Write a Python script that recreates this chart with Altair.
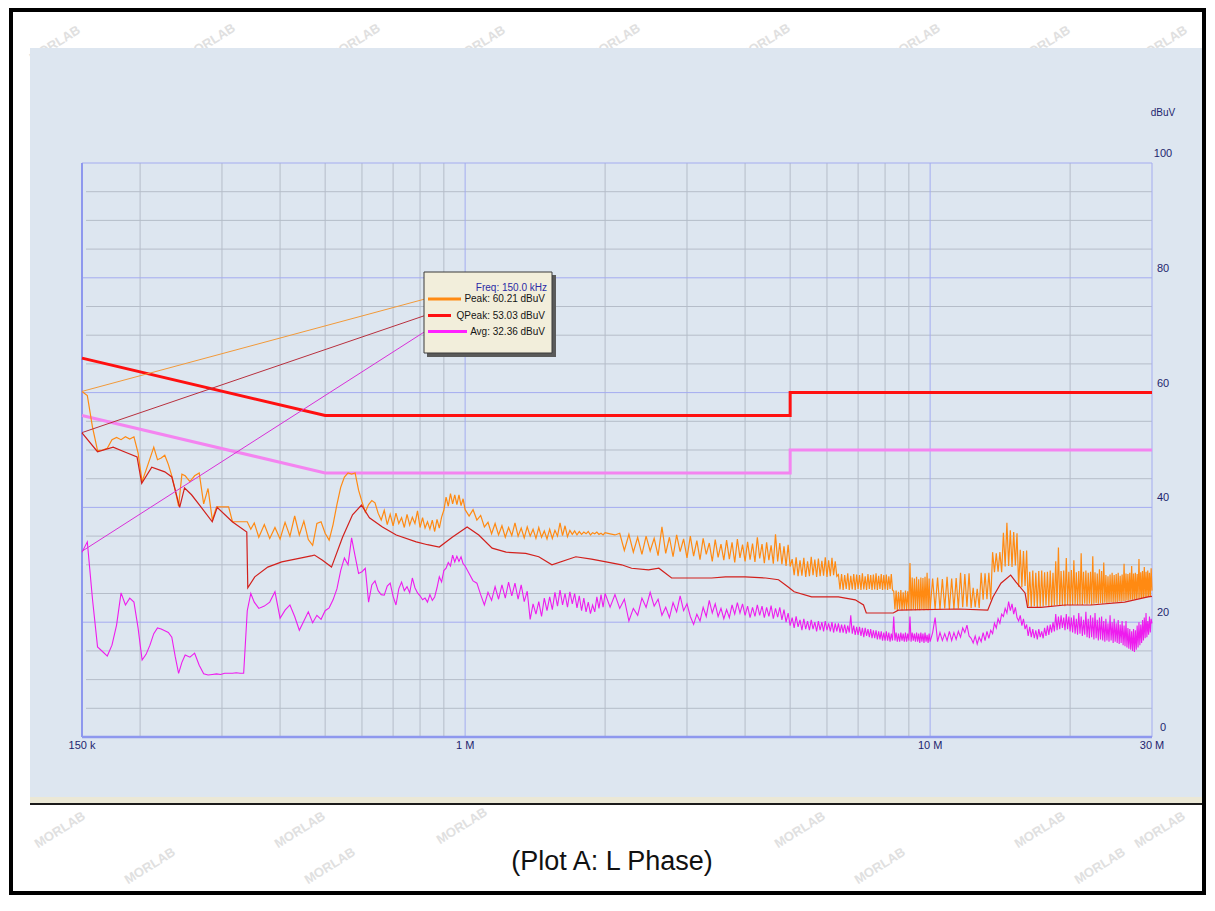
import altair as alt
import pandas as pd

# ---------------- measurement sweep (MHz) ----------------
F1 = [0.150, 0.154, 0.158, 0.162, 0.166, 0.170, 0.174, 0.178, 0.182, 0.186, 0.190, 0.194, 0.198,
      0.202, 0.206, 0.210, 0.214, 0.218, 0.222, 0.226, 0.230, 0.234, 0.238, 0.242, 0.246, 0.250]
F2A = [0.256, 0.262, 0.268, 0.274, 0.280, 0.286, 0.292, 0.298, 0.304, 0.310, 0.316, 0.322, 0.328,
       0.334, 0.340, 0.346, 0.352]
F2B = [0.36, 0.37, 0.38, 0.39, 0.40, 0.41, 0.42, 0.43, 0.44, 0.45, 0.46, 0.47, 0.48, 0.49, 0.50]
F3 = [0.51, 0.52, 0.53, 0.54, 0.55, 0.56, 0.57, 0.58, 0.59, 0.60, 0.61, 0.62, 0.63, 0.64, 0.65,
      0.66, 0.67, 0.68, 0.69, 0.70, 0.71, 0.72, 0.73, 0.74, 0.75, 0.76, 0.77, 0.78, 0.79, 0.80,
      0.81, 0.82, 0.83, 0.84, 0.85, 0.86, 0.87, 0.88, 0.89, 0.90, 0.91, 0.92, 0.93, 0.94, 0.95,
      0.96, 0.97, 0.98, 0.99, 1.00]
F4 = [1.02, 1.04, 1.06, 1.08, 1.10, 1.12, 1.14, 1.16, 1.18, 1.20, 1.22, 1.24, 1.26, 1.28, 1.30,
      1.32, 1.34, 1.36, 1.38, 1.40, 1.42, 1.44, 1.46, 1.48, 1.50, 1.52, 1.54, 1.56, 1.58, 1.60,
      1.62, 1.64, 1.66, 1.68, 1.70, 1.72, 1.74, 1.76, 1.78, 1.80, 1.82, 1.84, 1.86, 1.88, 1.90,
      1.92, 1.94, 1.96, 1.98, 2.00]
F5 = [2.05, 2.10, 2.15, 2.20, 2.25, 2.30, 2.35, 2.40, 2.45, 2.50, 2.55, 2.60, 2.65, 2.70, 2.75,
      2.80, 2.85, 2.90, 2.95, 3.00, 3.05, 3.10, 3.15, 3.20, 3.25, 3.30, 3.35, 3.40, 3.45, 3.50,
      3.55, 3.60, 3.65, 3.70, 3.75, 3.80, 3.85, 3.90, 3.95, 4.00, 4.05, 4.10, 4.15, 4.20, 4.25,
      4.30, 4.35, 4.40, 4.45, 4.50, 4.55, 4.60, 4.65, 4.70, 4.75, 4.80, 4.85, 4.90, 4.95, 5.00]
F6 = [5.05, 5.10, 5.15, 5.20, 5.25, 5.30, 5.35, 5.40, 5.45, 5.50, 5.55, 5.60, 5.65, 5.70, 5.75,
      5.80, 5.85, 5.90, 5.95, 6.00, 6.05, 6.10, 6.15, 6.20, 6.25, 6.30,
      6.35, 6.40, 6.45, 6.50, 6.55, 6.60, 6.65, 6.70, 6.75, 6.80, 6.85, 6.90, 6.95, 7.00, 7.05,
      7.10, 7.15, 7.20, 7.25, 7.30, 7.35, 7.40, 7.45, 7.50, 7.55, 7.60, 7.65, 7.70, 7.75, 7.80,
      7.85, 7.90, 7.95, 8.00, 8.05, 8.10, 8.15, 8.20, 8.25, 8.30,
      8.35, 8.40, 8.45, 8.50, 8.55, 8.60, 8.65, 8.70, 8.75, 8.80, 8.85, 8.90, 8.95,
      9.00, 9.05, 9.10, 9.15, 9.20, 9.25, 9.30, 9.35, 9.40, 9.45, 9.50, 9.55, 9.60, 9.65, 9.70,
      9.75, 9.80, 9.85, 9.90, 9.95, 10.00]
F7 = [10.125, 10.25, 10.375, 10.5, 10.625, 10.75, 10.875, 11.0, 11.125, 11.25, 11.375, 11.5,
      11.625, 11.75, 11.875, 12.0, 12.125,
      12.25, 12.375, 12.5, 12.625, 12.75,
      12.875, 13.0, 13.125, 13.25, 13.375, 13.5,
      13.625, 13.75, 13.875, 14.0, 14.125, 14.25,
      14.375, 14.5, 14.625, 14.75, 14.875, 15.0, 15.125, 15.25, 15.375,
      15.5, 15.625, 15.75, 15.875, 16.0, 16.125,
      16.25, 16.375, 16.5, 16.625, 16.75, 16.875, 17.0, 17.125, 17.25, 17.375,
      17.5, 17.625, 17.75, 17.875, 18.0, 18.125, 18.25, 18.375, 18.5, 18.625,
      18.75, 18.875, 19.0, 19.125, 19.25, 19.375, 19.5, 19.625, 19.75, 19.875,
      20.0, 20.125, 20.25, 20.375, 20.5, 20.625, 20.75, 20.875, 21.0, 21.125,
      21.25, 21.375, 21.5, 21.625, 21.75, 21.875, 22.0, 22.125, 22.25, 22.375,
      22.5, 22.625, 22.75, 22.875, 23.0, 23.125, 23.25, 23.375, 23.5, 23.625,
      23.75, 23.875, 24.0, 24.125, 24.25, 24.375, 24.5, 24.625, 24.75, 24.875,
      25.0, 25.125, 25.25, 25.375, 25.5, 25.625, 25.75, 25.875, 26.0, 26.125,
      26.25, 26.375, 26.5, 26.625, 26.75, 26.875, 27.0, 27.125, 27.25, 27.375,
      27.5, 27.625, 27.75, 27.875, 28.0, 28.125, 28.25, 28.375, 28.5, 28.625,
      28.75, 28.875, 29.0, 29.125, 29.25, 29.375, 29.5, 29.625, 29.75, 29.875, 30.0]

# ---------------- Peak trace (dBuV) ----------------
P1 = [60.2, 59.5, 54.0, 49.9, 50.0, 50.3, 51.8, 52.2, 51.8, 52.3, 51.9, 52.3, 49.5, 44.5, 46.5,
      48.5, 50.5, 48.3, 48.6, 49.1, 47.5, 45.5, 43.0, 40.2, 45.8, 45.5]
P2A = [44.5, 45.5, 46.0, 40.6, 43.3, 37.8, 40.1, 40.1, 40.1, 40.1, 37.5, 37.5, 37.5, 37.5, 37.5,
       36.2, 37.3]
P2B = [34.8, 37.0, 34.6, 36.5, 34.5, 37.4, 35.0, 38.5, 35.2, 37.6, 34.4, 33.4, 37.2, 37.5, 35.5]
P3 = [34.3, 37.0, 40.5, 43.5, 45.3, 46.0, 45.8, 46.0, 43.0, 41.0, 39.2, 40.5, 41.2, 40.8, 39.0,
      37.8, 39.5, 37.0, 38.8, 36.8, 39.0, 37.2, 38.2, 36.5, 38.8, 36.9, 38.3, 37.2, 39.4, 36.5,
      38.2, 36.4, 37.5, 36.2, 37.8, 35.8, 37.9, 36.4, 38.3, 39.5, 41.8, 40.2, 42.4, 40.6, 42.2,
      40.5, 42.2, 40.3, 41.5, 39.6]
P4 = [38.5, 39.6, 37.8, 38.6, 36.6, 37.4, 35.4, 37.2, 35.2, 36.8, 34.8, 36.5, 35.1, 37.3, 35.0,
      36.4, 34.7, 36.6, 35.0, 36.2, 34.6, 36.5, 34.8, 35.9, 34.5, 36.2, 34.6, 36.0, 35.0, 37.3,
      35.1, 36.8, 34.9, 36.0, 35.3, 35.9, 35.2, 35.8, 35.3, 35.7, 35.4, 35.8, 35.2, 35.6, 35.4,
      35.7, 35.3, 35.5, 35.2, 35.6]
P5 = [35.4, 35.2, 35.5, 32.5, 35.3, 32.2, 34.8, 31.8, 35.0, 32.4, 34.6, 31.6, 36.6, 32.0, 34.8,
      31.4, 35.2, 32.3, 34.5, 31.2, 35.0, 31.5, 34.2, 30.9, 34.6, 31.8, 33.8, 30.6, 34.4, 31.3,
      33.6, 30.8, 34.3, 31.0, 33.9, 30.4, 34.5, 31.2, 33.5, 30.6, 34.0, 30.9, 33.7, 30.5, 34.8,
      31.1, 33.6, 30.3, 33.9, 30.8, 33.4, 30.2, 35.3, 30.6, 33.8, 30.1, 33.2, 29.8, 33.5, 29.7]
P6 = [31.0, 28.2, 31.3, 28.0, 30.8, 28.1, 31.2, 27.9, 30.6, 28.0, 31.4, 28.2, 30.9, 27.9, 31.1,
      28.0, 30.7, 28.1, 31.3, 27.9, 30.8, 28.0, 31.2, 28.2, 30.6, 28.0,
      28.3, 25.7, 28.4, 25.6, 28.2, 25.8, 28.5, 25.6, 28.1, 25.7, 28.4, 25.6, 28.3, 25.8, 28.2,
      25.6, 28.5, 25.7, 28.0, 25.6, 28.4, 25.8, 28.2, 25.6, 28.3, 25.7, 28.5, 25.6, 28.1, 25.8,
      28.4, 25.6, 28.2, 25.7, 28.3, 25.6, 28.0, 25.8, 28.4, 25.6,
      25.4, 22.2, 25.5, 22.1, 25.3, 22.3, 25.6, 22.1, 25.2, 22.2, 25.5, 22.1, 25.4,
      22.2, 30.3, 22.1, 27.8, 22.3, 27.6, 22.1, 27.9, 22.2, 27.5, 22.1, 27.8, 22.3, 27.7, 22.1,
      27.9, 22.2, 28.6, 22.1, 27.6, 22.2]
P7 = [27.6, 22.3, 27.8, 22.2, 27.5, 22.4, 27.9, 22.2, 27.6, 22.3, 27.7, 22.4,
      28.6, 22.6, 28.4, 22.7, 28.5,
      22.5, 26.0, 22.6, 25.8, 22.5,
      28.6, 23.9, 28.5, 24.0, 28.6, 23.9,
      32.2, 28.7, 32.0, 28.8, 32.2, 28.7,
      35.6, 29.7, 37.3, 29.8, 36.0, 29.6, 35.7, 29.9, 35.5,
      26.2, 32.6, 26.1, 32.4, 26.3, 32.5,
      22.8, 28.8, 22.7, 29.0, 22.8, 28.6, 22.6, 28.9, 22.7, 29.0,
      22.8, 28.7, 22.9, 28.8, 22.8, 29.0, 22.7, 28.6, 22.9, 30.6,
      23.0, 33.0, 22.9, 28.9, 23.0, 29.0, 22.8, 31.2, 23.0, 28.8,
      22.9, 29.1, 23.0, 30.8, 23.1, 28.7, 23.0, 28.9, 23.1, 32.0,
      23.0, 28.8, 23.2, 29.0, 23.1, 28.6, 23.2, 28.8, 23.0, 31.5,
      23.2, 28.7, 23.3, 28.5, 23.2, 29.2, 23.3, 28.9, 23.2, 30.4,
      23.4, 28.2, 23.3, 28.0, 23.4, 28.3, 23.5, 28.6, 23.4, 28.2,
      23.5, 28.4, 23.5, 28.6, 23.6, 28.1, 23.6, 28.3, 23.7, 30.2,
      23.7, 28.5, 23.8, 28.4, 23.8, 28.6, 23.9, 29.8, 23.9, 28.5,
      24.0, 28.6, 24.0, 28.4, 24.1, 31.0, 24.1, 28.7, 24.2, 28.9,
      24.2, 29.6, 24.3, 28.8, 24.3, 29.0, 24.4, 28.6, 24.4, 29.4, 25.5]

# ---------------- Average trace (dBuV) ----------------
A1 = [32.2, 34.0, 24.0, 15.7, 14.9, 14.1, 16.0, 19.5, 25.1, 23.0, 24.2, 23.5, 19.0, 13.4, 14.4,
      16.0, 18.0, 19.0, 18.8, 18.5, 18.2, 17.4, 14.0, 11.1, 13.0, 14.3]
A2A = [13.9, 14.6, 12.5, 11.0, 10.8, 10.9, 11.0, 10.9, 11.1, 11.1, 11.1, 11.2, 11.1, 11.1, 22.0,
       25.0, 23.5]
A2B = [22.4, 22.8, 23.5, 25.3, 20.7, 22.1, 23.0, 21.0, 18.6, 20.2, 21.8, 19.9, 21.2, 20.5, 22.0]
A3 = [22.5, 23.9, 25.8, 29.0, 31.2, 30.0, 34.7, 31.5, 28.5, 28.8, 29.4, 23.5, 26.5, 27.2, 25.5,
      24.8, 24.7, 26.3, 26.8, 24.5, 23.0, 25.8, 27.0, 25.5, 26.2, 25.1, 27.7, 26.0, 25.1, 24.6,
      23.9, 24.2, 23.5, 24.8, 23.8, 24.4, 26.0, 27.9, 27.0, 29.0, 29.4, 30.4, 29.8, 31.7, 30.5,
      31.5, 30.6, 31.4, 30.2, 29.8]
A4 = [28.5, 27.2, 26.8, 24.8, 23.0, 25.2, 23.8, 26.2, 24.0, 26.5, 24.2, 27.0, 24.6, 26.8, 24.0,
      26.5, 23.6, 25.4, 20.5, 23.2, 21.4, 23.6, 21.0, 24.2, 22.0, 24.4, 22.2, 25.2, 22.8, 25.6,
      23.0, 25.0, 22.6, 25.3, 23.2, 25.0, 22.5, 24.6, 22.0, 24.2, 21.8, 23.5, 21.5, 23.0, 21.8,
      24.4, 22.4, 24.8, 22.6, 25.0]
A5 = [22.6, 24.8, 22.4, 24.0, 20.2, 22.4, 21.2, 24.2, 22.6, 25.2, 22.8, 24.0, 21.2, 22.6, 20.8,
      23.4, 21.8, 24.6, 22.0, 23.2, 21.0, 19.6, 21.4, 20.2, 22.6, 21.0, 23.8, 21.6, 23.2, 21.0,
      22.4, 20.6, 22.2, 20.8, 23.0, 21.4, 23.4, 21.6, 23.2, 21.2, 22.8, 20.8, 22.6, 21.0, 23.0,
      21.2, 22.8, 20.8, 22.6, 21.0, 22.9, 20.6, 22.4, 20.9, 22.6, 20.4, 22.2, 20.0, 21.6, 19.4]
A6 = [20.8, 19.0, 21.0, 19.2, 20.4, 18.6, 20.6, 18.8, 20.2, 18.6, 20.4, 18.8, 20.0, 18.4, 20.2,
      18.6, 20.0, 18.4, 20.2, 18.6, 19.8, 18.4, 20.0, 18.2, 19.8, 18.4,
      19.8, 18.2, 19.6, 18.2, 19.6, 18.0, 19.4, 18.2, 21.2, 18.0, 19.4, 17.8, 19.2, 17.8, 19.2,
      17.6, 19.0, 17.4, 19.0, 17.6, 18.8, 17.4, 18.8, 17.2, 18.6, 17.2, 18.6, 17.0, 18.4, 17.0,
      18.4, 16.8, 18.2, 16.8, 18.4, 16.8, 18.2, 16.6, 18.0, 16.8,
      21.0, 16.8, 18.2, 16.6, 18.0, 16.6, 18.2, 16.8, 18.0, 16.6, 18.2, 16.6, 18.0,
      16.8, 21.0, 16.6, 18.2, 16.8, 18.0, 16.6, 18.2, 16.6, 18.0, 16.4, 18.2, 16.6, 18.0, 16.4,
      18.2, 16.6, 17.8, 16.4, 18.0, 16.6]
A7 = [18.2, 20.8, 16.6, 18.2, 16.8, 18.0, 16.8, 18.4, 16.8, 18.2, 17.0, 18.4,
      17.4, 19.0, 18.2, 19.5, 17.6,
      17.2, 16.4, 17.6, 16.2, 17.4,
      16.6, 18.2, 16.8, 18.4, 17.2, 18.6,
      18.0, 19.8, 19.0, 20.6, 19.8, 21.4,
      21.0, 22.4, 21.6, 23.6, 22.0, 23.2, 21.4, 22.6, 20.8,
      20.2, 21.2, 19.4, 20.6, 18.8, 19.6,
      17.6, 19.2, 17.4, 18.8, 17.2, 18.6, 17.0, 18.8, 17.4, 18.4,
      17.2, 19.0, 17.6, 19.4, 17.8, 19.6, 18.2, 20.0, 18.4, 21.4,
      18.6, 21.0, 18.8, 21.2, 19.0, 20.8, 18.6, 21.4, 18.8, 21.0,
      18.4, 20.8, 18.2, 21.2, 18.0, 20.6, 17.8, 21.6, 18.0, 21.0,
      17.6, 20.4, 17.8, 21.8, 17.4, 20.6, 17.2, 21.2, 17.4, 20.8,
      17.0, 21.6, 17.2, 20.4, 16.8, 20.8, 17.0, 21.0, 16.8, 20.2,
      16.6, 20.6, 16.8, 19.8, 16.6, 21.2, 16.8, 20.0, 16.4, 20.6,
      16.6, 19.8, 16.4, 20.4, 16.2, 19.6, 16.4, 20.2, 16.0, 19.4,
      15.8, 20.2, 15.6, 19.0, 15.4, 18.8, 15.2, 18.4, 15.0, 18.8,
      14.8, 18.6, 15.2, 19.4, 15.6, 20.0, 16.0, 19.6, 16.4, 20.4,
      16.8, 20.8, 17.2, 21.6, 17.4, 20.2, 17.8, 21.0, 18.2, 20.6, 19.8]

FREQ_MHZ = F1 + F2A + F2B + F3 + F4 + F5 + F6 + F7
PEAK_DBUV = P1 + P2A + P2B + P3 + P4 + P5 + P6 + P7
AVG_DBUV = A1 + A2A + A2B + A3 + A4 + A5 + A6 + A7

# ---------------- Quasi-peak trace ----------------
QP_FREQ_MHZ = [0.150, 0.162, 0.175, 0.186, 0.197, 0.2016, 0.2119, 0.226, 0.234, 0.2433, 0.2492,
               0.258, 0.2708, 0.2859, 0.293, 0.3157, 0.3392, 0.3409, 0.3529, 0.3763, 0.4033,
               0.4447, 0.4693, 0.4743, 0.4935, 0.516, 0.545, 0.5726, 0.5986, 0.6226, 0.664,
               0.711, 0.785, 0.83, 0.88, 0.938, 1.01, 1.07, 1.143, 1.225, 1.35, 1.44, 1.537,
               1.73, 1.87, 2.01, 2.17, 2.28, 2.48, 2.61, 2.78, 3.07, 3.39, 3.63, 4.0, 4.43,
               4.72, 4.96, 5.1, 5.56, 6.35, 6.9, 7.19, 7.29, 8.33, 8.54, 11.5, 13.3, 13.65,
               14.2, 14.9, 15.3, 16.0, 16.2, 17.3, 19.5, 22.2, 26.2, 29.4, 30.0]
QP_DBUV = [53.0, 49.7, 50.5, 49.6, 48.8, 44.2, 47.0, 46.2, 45.3, 40.0, 43.4,
           42.2, 40.0, 37.5, 40.0, 37.5, 35.7, 26.0, 27.9, 29.6, 30.5,
           31.2, 31.6, 31.7, 30.8, 29.6, 34.8, 38.7, 40.4, 38.2, 36.6,
           35.2, 34.0, 33.5, 33.1, 34.8, 36.6, 35.2, 32.9, 32.2, 32.0, 31.4, 30.0,
           31.4, 31.0, 30.5, 30.0, 29.4, 29.1, 29.4, 27.7, 27.7, 27.7, 27.9, 27.9, 27.7,
           27.4, 26.1, 25.3, 24.4, 24.4, 23.9, 23.0, 21.6, 21.6, 22.1, 22.3, 22.1, 24.4,
           26.8, 28.2, 27.0, 25.1, 22.6, 22.6, 23.0, 23.0, 23.5, 24.4, 24.5]

# ---------------- limits ----------------
LIMIT_FREQ_MHZ = [0.15, 0.5, 5.0, 5.0, 30.0]
QP_LIMIT_DBUV = [66, 56, 56, 60, 60]
AVG_LIMIT_DBUV = [56, 46, 46, 50, 50]

# ---------------- marker readout ----------------
MARKER_FREQ_MHZ = 0.15
MARKER_FREQ_TEXT = "Freq: 150.0 kHz"
MARKER_NAMES = ["Peak", "QPeak", "Avg"]
MARKER_VALUES = [60.21, 53.03, 32.36]

# ---------------- axes / grid / text ----------------
X_TICK_VALUES = [0.15, 1, 10, 30]
X_TICK_LABELS = ["150 k", "1 M", "10 M", "30 M"]
Y_TICK_VALUES = [0, 20, 40, 60, 80, 100]
V_MINOR = [0.2, 0.3, 0.4, 0.5, 0.6, 0.7, 0.8, 0.9, 2, 3, 4, 5, 6, 7, 8, 9, 20]
V_MAJOR = [1, 10]
H_MINOR = [5, 10, 15, 25, 30, 35, 45, 50, 55, 65, 70, 75, 85, 90, 95]
H_MAJOR = [20, 40, 60, 80]
TITLE = "(Plot A: L Phase)"
UNIT = "dBuV"
WATERMARK = "MORLAB"

# ---------------- styling ----------------
W, H = 1070, 574
OX, OY = 82, 163          # page position of the plot origin
PANEL = "#dde6f0"
GRAY = "#b5bdc9"
BLUE = "#a4acf0"
EDGE = "#8e98ee"
NAVY = "#1d1f6e"
C_PEAK = "#ff8a12"
C_QP = "#d2201c"
C_AVG = "#ee1cee"
C_QPLIM = "#ff1010"
C_AVGLIM = "#f484f0"
SWATCH = ["#ff8a12", "#ff1010", "#ff20ff"]
LEAD = ["#f29a3a", "#b8303e", "#d830d8"]
FONT = "Liberation Sans, Arial, Helvetica, sans-serif"

# watermark centres (page pixels)
WM_PAGE_X = [55, 210, 355, 480, 615, 765, 915, 1045, 1162,
             60, 300, 462, 800, 1040, 1160,
             150, 330, 880, 1100]
WM_PAGE_Y = [44, 42, 42, 44, 42, 42, 42, 44, 44,
             830, 830, 826, 830, 830, 830,
             866, 866, 866, 866]

xs = alt.Scale(type="log", domain=[0.15, 30], nice=False)
ys = alt.Scale(domain=[0, 100], nice=False, zero=False)


def X(f):
    return alt.X(f"{f}:Q", scale=xs, axis=None)


def Y(f):
    return alt.Y(f"{f}:Q", scale=ys, axis=None)


one = pd.DataFrame({"k": [0]})
layers = []

# watermarks (under the panel)
for wx, wy in zip(WM_PAGE_X, WM_PAGE_Y):
    layers.append(alt.Chart(pd.DataFrame({"t": [WATERMARK]})).mark_text(
        font=FONT, fontSize=13, fontWeight="bold", color="#e0e0e0", angle=328,
        baseline="middle").encode(x=alt.value(wx - OX), y=alt.value(wy - OY), text="t:N"))

# panel background and bottom status bar
layers.append(alt.Chart(one).mark_rect(color=PANEL).encode(
    x=alt.value(-52), x2=alt.value(1120), y=alt.value(-115), y2=alt.value(634)))
layers.append(alt.Chart(one).mark_rect(color="#ebe8d6").encode(
    x=alt.value(-52), x2=alt.value(1120), y=alt.value(634), y2=alt.value(640)))
layers.append(alt.Chart(one).mark_rule(color="#1a1a1a", strokeWidth=2).encode(
    x=alt.value(-52), x2=alt.value(1120), y=alt.value(641)))

# grid
layers.append(alt.Chart(pd.DataFrame({"f": V_MINOR})).mark_rule(color=GRAY, strokeWidth=1).encode(
    x=X("f"), y=alt.value(0), y2=alt.value(H)))
layers.append(alt.Chart(pd.DataFrame({"db": H_MINOR})).mark_rule(color=GRAY, strokeWidth=1).encode(
    y=Y("db"), x=alt.value(4), x2=alt.value(W)))
layers.append(alt.Chart(pd.DataFrame({"f": V_MAJOR})).mark_rule(color=BLUE, strokeWidth=1).encode(
    x=X("f"), y=alt.value(0), y2=alt.value(H)))
layers.append(alt.Chart(pd.DataFrame({"db": H_MAJOR})).mark_rule(color=BLUE, strokeWidth=1).encode(
    y=Y("db"), x=alt.value(0), x2=alt.value(W)))
# plot frame
layers.append(alt.Chart(one).mark_rule(color=BLUE, strokeWidth=1).encode(
    x=alt.value(0), x2=alt.value(W), y=alt.value(0)))
layers.append(alt.Chart(one).mark_rule(color=BLUE, strokeWidth=1).encode(
    x=alt.value(W), y=alt.value(0), y2=alt.value(H)))
layers.append(alt.Chart(one).mark_rule(color=EDGE, strokeWidth=2).encode(
    x=alt.value(0), y=alt.value(0), y2=alt.value(H)))
layers.append(alt.Chart(one).mark_rule(color=EDGE, strokeWidth=2.5).encode(
    x=alt.value(0), x2=alt.value(W), y=alt.value(H)))

# limit lines
lim = pd.DataFrame({"f": LIMIT_FREQ_MHZ, "qp": QP_LIMIT_DBUV, "av": AVG_LIMIT_DBUV,
                    "i": list(range(len(LIMIT_FREQ_MHZ)))})
layers.append(alt.Chart(lim).mark_line(color=C_QPLIM, strokeWidth=3).encode(
    x=X("f"), y=Y("qp"), order="i:Q"))
layers.append(alt.Chart(lim).mark_line(color=C_AVGLIM, strokeWidth=3).encode(
    x=X("f"), y=Y("av"), order="i:Q"))

# traces
main = pd.DataFrame({"f": FREQ_MHZ, "pk": PEAK_DBUV, "av": AVG_DBUV})
main["i"] = range(len(main))
qp = pd.DataFrame({"f": QP_FREQ_MHZ, "qp": QP_DBUV})
qp["i"] = range(len(qp))
layers.append(alt.Chart(main).mark_line(color=C_PEAK, strokeWidth=1.2).encode(
    x=X("f"), y=Y("pk"), order="i:Q"))
layers.append(alt.Chart(qp).mark_line(color=C_QP, strokeWidth=1.2).encode(
    x=X("f"), y=Y("qp"), order="i:Q"))
layers.append(alt.Chart(main).mark_line(color=C_AVG, strokeWidth=1.1).encode(
    x=X("f"), y=Y("av"), order="i:Q"))

# leader lines from the marker to the readout box
row_y = [136, 152.5, 168.5]
for val, col, ry in zip(MARKER_VALUES, LEAD, row_y):
    layers.append(alt.Chart(pd.DataFrame({"f": [MARKER_FREQ_MHZ], "db": [val]})).mark_rule(
        color=col, strokeWidth=1).encode(x=X("f"), y=Y("db"), x2=alt.value(343), y2=alt.value(ry)))

# readout box
layers.append(alt.Chart(one).mark_rect(color="#5a5a5a").encode(
    x=alt.value(345), x2=alt.value(474), y=alt.value(112), y2=alt.value(194)))
layers.append(alt.Chart(one).mark_rect(fill="#f2eedb", stroke="#3a3a3a", strokeWidth=1).encode(
    x=alt.value(342), x2=alt.value(470), y=alt.value(109), y2=alt.value(190)))
layers.append(alt.Chart(pd.DataFrame({"t": [MARKER_FREQ_TEXT]})).mark_text(
    align="right", baseline="middle", font=FONT, fontSize=10, color="#2b2ba6").encode(
    x=alt.value(465), y=alt.value(124.5), text="t:N"))
sw_end = [379, 369, 385]
for name, val, col, ry, se in zip(MARKER_NAMES, MARKER_VALUES, SWATCH, row_y, sw_end):
    layers.append(alt.Chart(pd.DataFrame({"t": [f"{name}: {val:.2f} {UNIT}"]})).mark_text(
        align="right", baseline="middle", font=FONT, fontSize=10, color="#151515").encode(
        x=alt.value(463), y=alt.value(ry), text="t:N"))
    layers.append(alt.Chart(one).mark_rule(color=col, strokeWidth=3).encode(
        x=alt.value(346), x2=alt.value(se), y=alt.value(ry)))

# tick labels
layers.append(alt.Chart(pd.DataFrame({"f": X_TICK_VALUES, "t": X_TICK_LABELS})).mark_text(
    baseline="top", font=FONT, fontSize=11, color=NAVY).encode(
    x=X("f"), y=alt.value(H + 3), text="t:N"))
layers.append(alt.Chart(pd.DataFrame({"db": Y_TICK_VALUES})).mark_text(
    baseline="middle", font=FONT, fontSize=11, color=NAVY, dy=-9).encode(
    x=alt.value(1081), y=Y("db"), text=alt.Text("db:Q", format="d")))
layers.append(alt.Chart(pd.DataFrame({"t": [UNIT]})).mark_text(
    baseline="middle", font=FONT, fontSize=10, color=NAVY).encode(
    x=alt.value(1081), y=alt.value(-50), text="t:N"))

# caption and outer frame
layers.append(alt.Chart(pd.DataFrame({"t": [TITLE]})).mark_text(
    baseline="middle", font=FONT, fontSize=27, color="#111111").encode(
    x=alt.value(530), y=alt.value(699), text="t:N"))
layers.append(alt.Chart(one).mark_rect(filled=False, stroke="#000000", strokeWidth=4).encode(
    x=alt.value(-71), x2=alt.value(1122), y=alt.value(-153), y2=alt.value(730)))

chart = alt.layer(*layers).properties(
    width=W, height=H,
    autosize=alt.AutoSizeParams(type="none"),
    padding={"left": 74, "top": 155, "right": 55, "bottom": 159},
).configure_view(strokeWidth=0).configure(background="white")

chart.save("out.html", embed_options={"renderer": "svg", "actions": False})
